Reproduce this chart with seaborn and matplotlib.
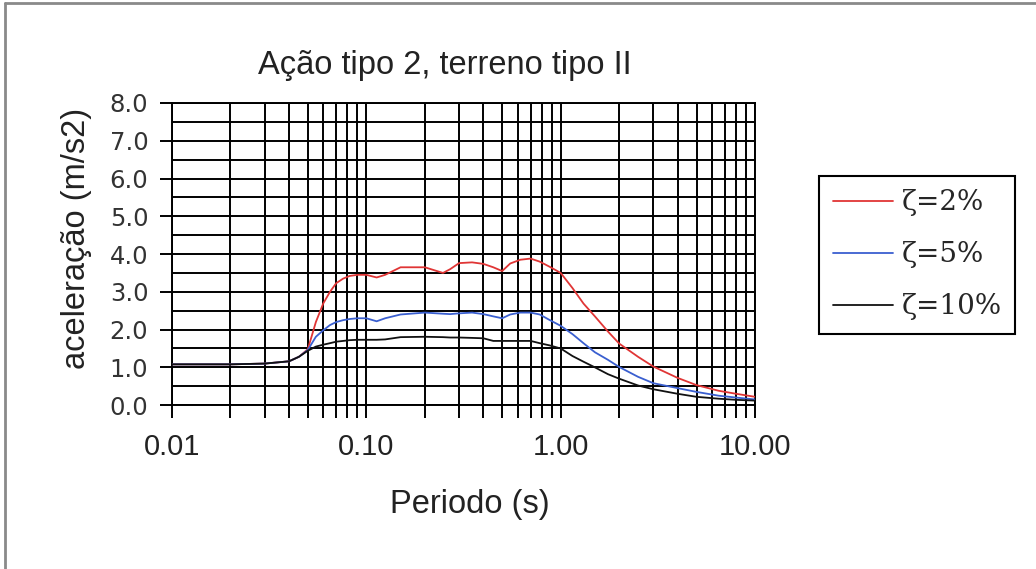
import pandas as pd
import matplotlib.pyplot as plt
import seaborn as sns
from matplotlib.lines import Line2D
from matplotlib.ticker import LogLocator, MultipleLocator, FixedLocator, NullFormatter

# Data: response spectra, action type 2, soil type II
periods = [0.01, 0.02, 0.03, 0.04, 0.045, 0.05, 0.055, 0.06, 0.065, 0.07, 0.076, 0.082,
           0.09, 0.1, 0.113, 0.125, 0.15, 0.2, 0.248, 0.27, 0.3, 0.35, 0.4, 0.45, 0.5,
           0.55, 0.62, 0.7, 0.78, 0.88, 1.0, 1.15, 1.31, 1.5, 1.75, 2.0, 2.5, 3.0, 4.0,
           5.0, 6.5, 8.0, 10.0]
acc_2 = [1.08, 1.08, 1.1, 1.16, 1.28, 1.48, 2.2, 2.69, 3.0, 3.23, 3.35, 3.42,
         3.45, 3.45, 3.38, 3.45, 3.65, 3.65, 3.5, 3.6, 3.76, 3.78, 3.74, 3.65, 3.55,
         3.75, 3.85, 3.88, 3.8, 3.66, 3.5, 3.1, 2.69, 2.35, 1.95, 1.63, 1.28, 1.02, 0.72,
         0.53, 0.38, 0.3, 0.22]
acc_5 = [1.08, 1.08, 1.1, 1.16, 1.28, 1.46, 1.81, 1.98, 2.12, 2.2, 2.25, 2.28,
         2.3, 2.3, 2.22, 2.3, 2.4, 2.45, 2.42, 2.41, 2.43, 2.45, 2.41, 2.35, 2.3,
         2.4, 2.45, 2.45, 2.4, 2.25, 2.1, 1.88, 1.64, 1.4, 1.2, 1.01, 0.75, 0.58, 0.45,
         0.35, 0.25, 0.2, 0.15]
acc_10 = [1.08, 1.08, 1.1, 1.16, 1.28, 1.44, 1.55, 1.6, 1.64, 1.68, 1.7, 1.72,
          1.73, 1.73, 1.73, 1.74, 1.8, 1.81, 1.8, 1.79, 1.79, 1.78, 1.77, 1.7, 1.7,
          1.7, 1.7, 1.7, 1.64, 1.58, 1.5, 1.3, 1.15, 1.0, 0.82, 0.7, 0.52, 0.42, 0.3,
          0.22, 0.17, 0.14, 0.12]
labels = ['ζ=2%', 'ζ=5%', 'ζ=10%']
colors = ['#e03535', '#3a5fd0', '#111111']
x_ticks = [0.01, 0.1, 1, 10]
x_ticklabels = ['0.01', '0.10', '1.00', '10.00']

rows = []
for lab, vals in zip(labels, [acc_2, acc_5, acc_10]):
    for t, a in zip(periods, vals):
        rows.append({'Periodo': t, 'acc': a, 'amort': lab})
df = pd.DataFrame(rows)

sns.set_style('white')
sans = ['Liberation Sans', 'DejaVu Sans']

fig = plt.figure(figsize=(10.36, 5.69), dpi=100)
ax = fig.add_axes([0.166, 0.288, 0.5628, 0.531])

sns.lineplot(data=df, x='Periodo', y='acc', hue='amort', hue_order=labels,
             palette=colors, estimator=None, sort=False, linewidth=1.3, ax=ax, zorder=3)

ax.set_xscale('log')
ax.set_xlim(0.01, 10)
ax.set_ylim(0, 8)
ax.xaxis.set_major_locator(FixedLocator(x_ticks))
ax.xaxis.set_minor_locator(LogLocator(base=10, subs=range(2, 10)))
ax.xaxis.set_minor_formatter(NullFormatter())
ax.set_xticklabels(x_ticklabels, family=sans, fontsize=21, color='#222222')
ax.yaxis.set_minor_locator(MultipleLocator(0.5))
ax.set_yticks(range(0, 9))
ax.set_yticklabels([f'{v:.1f}' for v in range(0, 9)], family='DejaVu Sans', fontsize=17.5, color='#333333')

ax.grid(which='both', axis='both', color='black', linewidth=1.4)
ax.set_axisbelow(True)
ax.tick_params(axis='x', which='both', direction='out', length=9, width=1.4, color='black', bottom=True)
ax.tick_params(axis='y', which='major', direction='out', length=9, width=1.4, color='black', left=True)
ax.tick_params(axis='y', which='minor', length=0)
ax.tick_params(axis='x', which='major', pad=11)
ax.tick_params(axis='y', which='major', pad=8)
for s in ax.spines.values():
    s.set_color('black')
    s.set_linewidth(1.4)

ax.set_xlabel('Periodo (s)', family=sans, fontsize=23.5, labelpad=20, x=0.511, color='#222222')
ax.set_ylabel('aceleração (m/s2)', family=sans, fontsize=23.5, labelpad=13, y=0.553, color='#222222')
ax.set_title('Ação tipo 2, terreno tipo II', family=sans, fontsize=23.5, pad=21, x=0.468, color='#222222')

handles = [Line2D([0], [0], color=c, linewidth=1.3) for c in colors]
ax.legend(handles, labels, loc='center left', bbox_to_anchor=(1.11, 0.497), borderaxespad=0,
          prop={'family': 'DejaVu Serif', 'size': 20}, frameon=True, fancybox=False,
          edgecolor='black', framealpha=1, handlelength=2.16, handletextpad=0.3,
          labelspacing=0.9, borderpad=0.5)
ax.get_legend().get_frame().set_linewidth(1.5)

# outer frame (top and left only)
fig.add_artist(Line2D([0.005, 0.005], [0, 0.995], transform=fig.transFigure, color='#8a8a8a', linewidth=2))
fig.add_artist(Line2D([0.005, 1], [0.995, 0.995], transform=fig.transFigure, color='#8a8a8a', linewidth=2))

fig.savefig('out.png', dpi=100)
